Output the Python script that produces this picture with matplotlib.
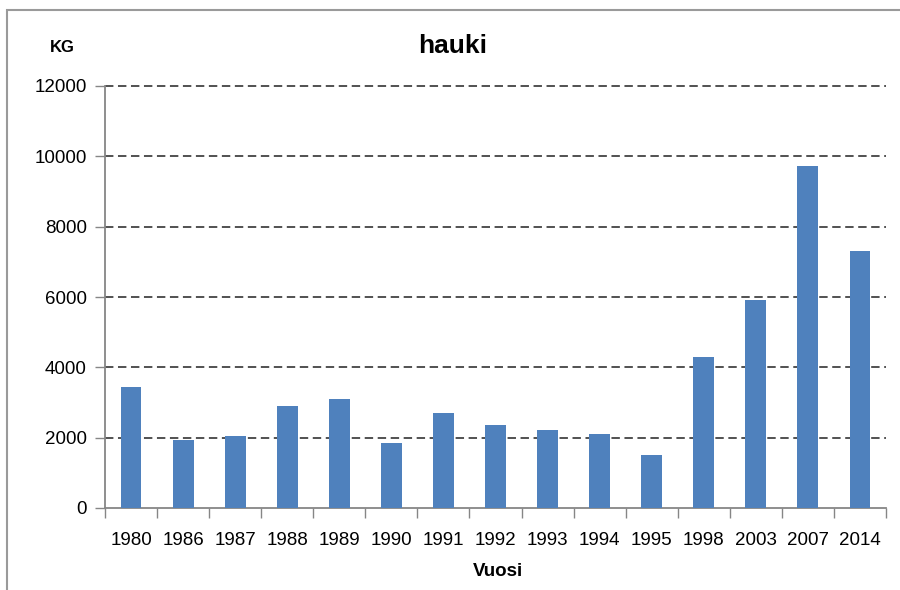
import matplotlib
matplotlib.use("Agg")
import matplotlib.pyplot as plt
from matplotlib.patches import Rectangle

years = ["1980", "1986", "1987", "1988", "1989", "1990", "1991", "1992",
         "1993", "1994", "1995", "1998", "2003", "2007", "2014"]
catch_kg = [3450, 1940, 2055, 2900, 3110, 1850, 2695, 2355,
            2220, 2100, 1520, 4290, 5920, 9730, 7300]
y_ticks = [0, 2000, 4000, 6000, 8000, 10000, 12000]

FONT = ['Liberation Sans Narrow', 'Liberation Sans', 'DejaVu Sans']
plt.rcParams['font.family'] = FONT

fig = plt.figure(figsize=(9, 5.9), dpi=100)
ax = fig.add_axes([105/900, 82/590, (886-105)/900, (508-86)/590])

x = list(range(len(years)))
ax.bar(x, catch_kg, width=0.4, color='#4F81BD', zorder=3)

ax.set_xlim(-0.5, len(years) - 0.5)
ax.set_ylim(0, 12000)
ax.set_yticks(y_ticks)
ax.set_yticklabels([str(v) for v in y_ticks], fontsize=13.5)
ax.set_xticks(x)
ax.set_xticklabels(years, fontsize=13.5)
ax.tick_params(axis='x', length=0, pad=17)
ax.set_xticks([i - 0.5 for i in range(len(years) + 1)], minor=True)
ax.tick_params(axis='x', which='minor', length=7, color='#868686', width=1)
ax.tick_params(axis='y', length=7, color='#868686', width=1, pad=6)

for v in y_ticks[1:]:
    ax.axhline(v, color='#222222', linestyle=(0, (5.5, 3)), linewidth=1.1,
               zorder=1, clip_on=False)

for s in ['top', 'right']:
    ax.spines[s].set_visible(False)
for s in ['left', 'bottom']:
    ax.spines[s].set_color('#868686')
    ax.spines[s].set_linewidth(1.3)

fig.text(453/900, 1 - 46/590, "hauki", fontsize=19, fontweight='bold',
         ha='center', va='center')
fig.text(62/900, 1 - 48/590, "KG", fontsize=12, fontweight='bold',
         ha='center', va='center')
fig.text(498/900, 1 - 572/590, "Vuosi", fontsize=13.5, fontweight='bold',
         ha='center', va='center')

border = Rectangle((7/900, -0.05), 1.0, 1 - 10/590 + 0.05, transform=fig.transFigure,
                   fill=False, edgecolor='#9a9a9a', linewidth=1.5, clip_on=False)
fig.patches.append(border)

fig.savefig("out.png", dpi=100)
